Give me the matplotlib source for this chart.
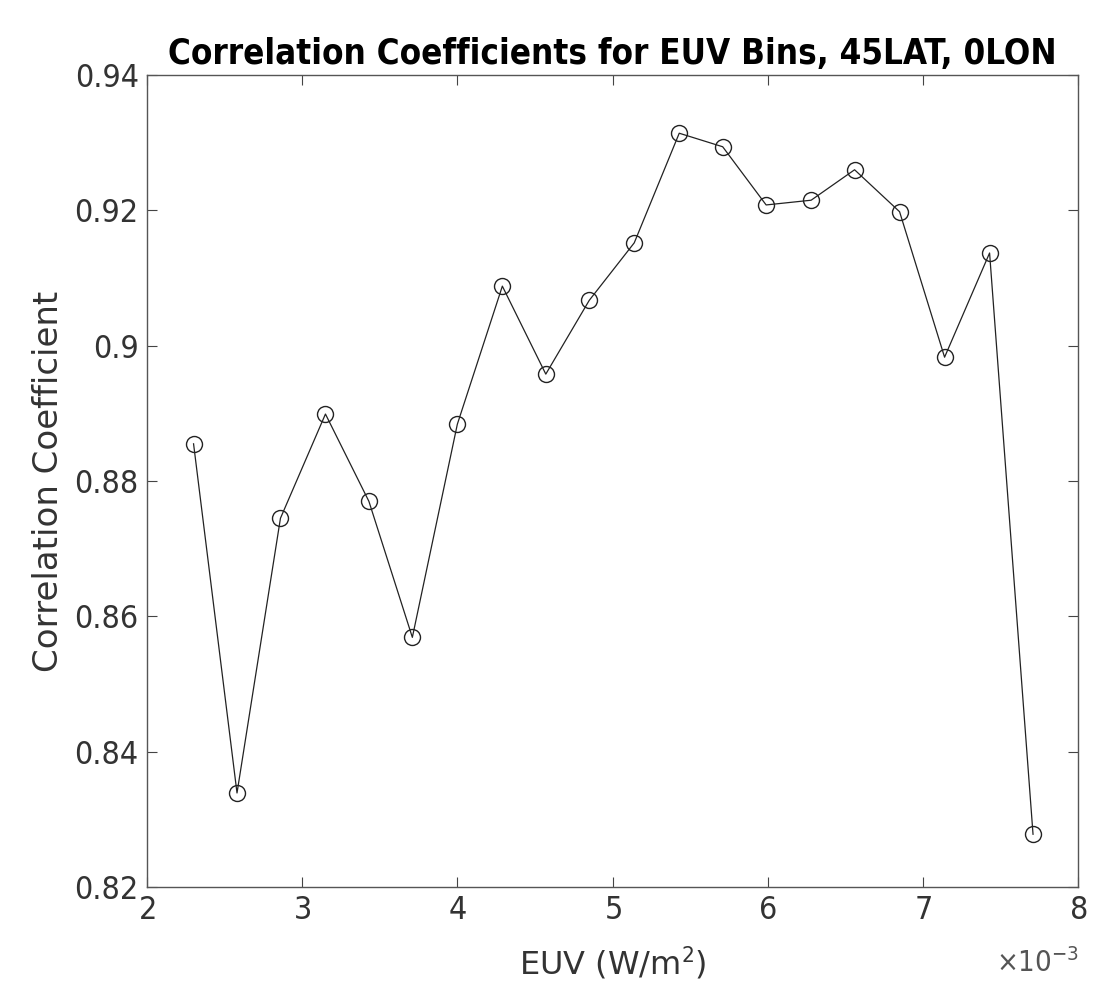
import matplotlib
matplotlib.use("Agg")
import matplotlib.pyplot as plt
from matplotlib.ticker import ScalarFormatter

# EUV bin centres (W/m^2) and correlation coefficients
euv = [0.00230, 0.00258, 0.00286, 0.00315, 0.00343, 0.00371, 0.00400,
       0.00429, 0.00457, 0.00485, 0.00514, 0.00543, 0.00571, 0.00599,
       0.00628, 0.00656, 0.00685, 0.00714, 0.00743, 0.00771]
corr = [0.8855, 0.8339, 0.8745, 0.8899, 0.8770, 0.8569, 0.8884,
        0.9088, 0.8958, 0.9067, 0.9152, 0.9314, 0.9294, 0.9208,
        0.9215, 0.9260, 0.9198, 0.8983, 0.9137, 0.8278]

xticks = [0.002, 0.003, 0.004, 0.005, 0.006, 0.007, 0.008]
yticks = [0.82, 0.84, 0.86, 0.88, 0.90, 0.92, 0.94]
ytick_labels = ["0.82", "0.84", "0.86", "0.88", "0.9", "0.92", "0.94"]

plt.rcParams['font.family'] = ['DejaVu Sans']
plt.rcParams['font.stretch'] = 'condensed'

fig = plt.figure(figsize=(10.93, 9.82), dpi=100)
ax = fig.add_axes([0.1345, 0.0967, 0.8518, 0.8269])

ax.plot(euv, corr, color='#222222', lw=0.9, marker='o', markersize=11.5,
        markerfacecolor='none', markeredgecolor='#222222', markeredgewidth=1.0)

ax.set_xlim(0.002, 0.008)
ax.set_ylim(0.82, 0.94)
ax.set_xticks(xticks)
ax.set_yticks(yticks)
ax.set_yticklabels(ytick_labels)

fmt = ScalarFormatter(useMathText=True)
fmt.set_powerlimits((-2, 2))
ax.xaxis.set_major_formatter(fmt)
ax.xaxis.get_offset_text().set_visible(False)

ax.tick_params(direction='in', top=True, right=True, length=7, width=0.8,
               colors='#444444', labelcolor='#333333', labelsize=23, pad=6)
for s in ax.spines.values():
    s.set_color('#555555')
    s.set_linewidth(1.0)

fig.text(0.987, 0.004, r'$\times$10$^{-3}$', ha='right', va='bottom',
         fontsize=21, color='#555555', fontstretch='condensed')

ax.set_xlabel('EUV (W/m$^2$)', fontsize=23, color='#333333', labelpad=13,
              fontstretch='normal')
ax.set_ylabel('Correlation Coefficient', fontsize=24.5, color='#333333',
              labelpad=7, fontstretch='normal')
ax.set_title('Correlation Coefficients for EUV Bins, 45LAT, 0LON',
             fontsize=25, fontweight='bold', color='black', pad=8)

fig.savefig('out.png', dpi=100)
